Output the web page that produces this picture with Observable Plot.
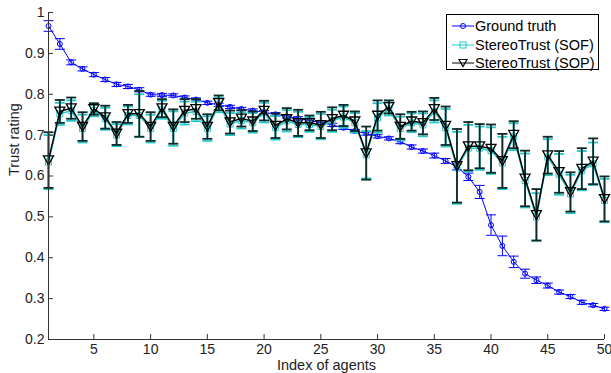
<!DOCTYPE html>
<html>
<head>
<meta charset="utf-8">
<script src="https://cdn.jsdelivr.net/npm/d3@7"></script>
<script src="https://cdn.jsdelivr.net/npm/@observablehq/plot@0.6"></script>
<style>
  html, body { margin: 0; padding: 0; background: #fff; }
  #wrap { position: relative; width: 611px; height: 373px; font-family: "Liberation Sans", Arial, sans-serif; }
  #legend { position: absolute; left: 446px; top: 14px; width: 151px; height: 54px; border: 1.5px solid #000; background: #fff; }
  .row { position: absolute; left: 0; width: 151px; height: 18px; }
  .row svg { position: absolute; left: 4px; top: 0; }
  .row span { position: absolute; left: 28px; top: 0; line-height: 18px; font-size: 14.5px; color: #000; white-space: nowrap; }
</style>
</head>
<body>
<div id="wrap"></div>
<script>
// ---- data ----
const agents = d3.range(1, 51);
const truth = [0.967,0.923,0.878,0.862,0.848,0.836,0.824,0.819,0.811,0.799,
               0.798,0.797,0.792,0.787,0.779,0.774,0.769,0.764,0.760,0.756,
               0.751,0.746,0.741,0.736,0.731,0.725,0.718,0.710,0.704,0.697,
               0.692,0.684,0.671,0.661,0.650,0.637,0.622,0.598,0.561,0.480,
               0.429,0.390,0.361,0.345,0.332,0.316,0.305,0.291,0.284,0.275];
const truthErr = [0.013,0.013,0.006,0.005,0.005,0.005,0.005,0.005,0.005,0.004,
                  0.004,0.004,0.004,0.004,0.004,0.004,0.004,0.004,0.004,0.004,
                  0.004,0.004,0.004,0.004,0.004,0.004,0.004,0.004,0.004,0.004,
                  0.004,0.005,0.005,0.005,0.006,0.006,0.007,0.009,0.016,0.025,
                  0.024,0.014,0.011,0.008,0.006,0.005,0.005,0.005,0.004,0.004];
const sop = [0.639,0.758,0.766,0.721,0.764,0.744,0.704,0.752,0.752,0.721,
             0.766,0.721,0.760,0.764,0.721,0.779,0.732,0.741,0.734,0.760,
             0.723,0.740,0.730,0.730,0.725,0.740,0.748,0.734,0.656,0.748,
             0.769,0.721,0.734,0.730,0.764,0.723,0.625,0.673,0.673,0.667,
             0.637,0.701,0.594,0.505,0.651,0.610,0.561,0.618,0.636,0.544];
const sopErr = [0.068,0.028,0.026,0.035,0.014,0.028,0.028,0.022,0.056,0.035,
                0.022,0.042,0.028,0.024,0.030,0.018,0.028,0.020,0.024,0.024,
                0.030,0.026,0.032,0.018,0.032,0.028,0.026,0.024,0.065,0.037,
                0.016,0.030,0.023,0.028,0.027,0.047,0.090,0.059,0.054,0.059,
                0.066,0.033,0.068,0.063,0.045,0.051,0.048,0.050,0.056,0.055];
const sof = [0.634,0.752,0.760,0.716,0.760,0.740,0.700,0.748,0.748,0.716,
             0.762,0.716,0.754,0.758,0.716,0.774,0.727,0.736,0.730,0.755,
             0.718,0.735,0.726,0.726,0.721,0.735,0.744,0.730,0.652,0.742,
             0.764,0.716,0.730,0.725,0.758,0.718,0.620,0.668,0.668,0.662,
             0.632,0.696,0.589,0.500,0.646,0.604,0.556,0.613,0.630,0.540];
const sofErr = [0.066,0.027,0.025,0.034,0.014,0.027,0.027,0.022,0.052,0.034,
                0.022,0.042,0.028,0.024,0.030,0.018,0.027,0.020,0.024,0.024,
                0.029,0.026,0.031,0.018,0.031,0.027,0.026,0.024,0.058,0.036,
                0.016,0.029,0.023,0.028,0.027,0.046,0.088,0.057,0.053,0.057,
                0.064,0.033,0.066,0.058,0.044,0.050,0.047,0.048,0.052,0.053];
const xTicks = [5,10,15,20,25,30,35,40,45,50];
const yTicks = [0.2,0.3,0.4,0.5,0.6,0.7,0.8,0.9,1];
const yTickLabels = ["0.2","0.3","0.4","0.5","0.6","0.7","0.8","0.9","1"];
const seriesNames = ["Ground truth", "StereoTrust (SOF)", "StereoTrust (SOP)"];

// ---- tables ----
const mk = (vals, errs) => agents.map((a, i) => ({x: a, y: vals[i], lo: vals[i] - errs[i], hi: vals[i] + errs[i]}));
const tTruth = mk(truth, truthErr);
const tSof = mk(sof, sofErr);
const tSop = mk(sop, sopErr);

// ---- symbols ----
const capSym = { draw(ctx, size) { const w = 5; ctx.moveTo(-w, 0); ctx.lineTo(w, 0); } };
const triDown = { draw(ctx, size) { const r = Math.sqrt(size / Math.PI); ctx.moveTo(-r, -r * 0.85); ctx.lineTo(r, -r * 0.85); ctx.lineTo(0, r * 0.95); ctx.closePath(); } };
const sqSym = { draw(ctx, size) { const r = Math.sqrt(size / Math.PI); ctx.rect(-r, -r, 2 * r, 2 * r); } };

const BLUE = "#0000ff", CYAN = "#22c8c8", BLACK = "#000", BAR = "#0c2a2a";

function series(t, color, barColor, lw, barW, sym, r, sw) {
  return [
    Plot.ruleX(t, {x: "x", y1: "lo", y2: "hi", stroke: barColor, strokeWidth: barW}),
    Plot.dot(t, {x: "x", y: "lo", symbol: capSym, r: 3, stroke: barColor, strokeWidth: barW}),
    Plot.dot(t, {x: "x", y: "hi", symbol: capSym, r: 3, stroke: barColor, strokeWidth: barW}),
    Plot.line(t, {x: "x", y: "y", stroke: color, strokeWidth: lw}),
    Plot.dot(t, {x: "x", y: "y", symbol: sym, r: r, stroke: color, fill: "none", strokeWidth: sw})
  ];
}

const chart = Plot.plot({
  width: 611,
  height: 373,
  marginLeft: 48,
  marginRight: 7,
  marginTop: 12,
  marginBottom: 34,
  style: {fontFamily: "'Liberation Sans', Arial, sans-serif", fontSize: "14px", color: "#222", background: "#fff"},
  x: {domain: [1, 50]},
  y: {domain: [0.2, 1]},
  marks: [
    ...series(tTruth, BLUE, BLUE, 1, 1, "circle", 2.5, 1),
    ...series(tSof, CYAN, CYAN, 1.5, 1.8, sqSym, 3, 1),
    ...series(tSop, BLACK, BAR, 1.5, 1.8, triDown, 5, 1.3),
    Plot.ruleX([1], {stroke: "#333", strokeWidth: 1}),
    Plot.ruleY([0.2], {stroke: "#333", strokeWidth: 1}),
    Plot.axisX(xTicks, {tickSize: -5, tickPadding: 10, label: null, stroke: "#333", fill: "#222", fontSize: 14}),
    Plot.axisY(yTicks, {tickSize: -5, tickPadding: 9, label: null, stroke: "#333", fill: "#222", fontSize: 14,
      tickFormat: (d) => yTickLabels[yTicks.indexOf(d)]}),
    Plot.text(["Index of agents"], {frameAnchor: "bottom", dy: 26, fontSize: 14.5, fill: "#222", lineAnchor: "middle"}),
    Plot.text(["Trust rating"], {frameAnchor: "left", dx: -34, rotate: -90, fontSize: 14.5, fill: "#222", lineAnchor: "middle"})
  ]
});

const wrap = document.getElementById("wrap");
wrap.appendChild(chart);

// ---- legend ----
const legend = document.createElement("div");
legend.id = "legend";
const legendSpecs = [
  {color: BLUE, marker: '<circle cx="12" cy="9" r="2.5" fill="none" stroke="#0000ff" stroke-width="1"/>'},
  {color: CYAN, marker: '<rect x="9" y="6" width="6" height="6" fill="none" stroke="#22c8c8" stroke-width="1"/>'},
  {color: BLACK, marker: '<path d="M8,5.5 L16,5.5 L12,12.5 Z" fill="none" stroke="#000" stroke-width="1.2"/>'}
];
seriesNames.forEach((name, i) => {
  const row = document.createElement("div");
  row.className = "row";
  row.style.top = (2 + i * 18.5) + "px";
  row.innerHTML = `<svg width="24" height="18"><line x1="1" y1="9" x2="23" y2="9" stroke="${legendSpecs[i].color}" stroke-width="1"/>${legendSpecs[i].marker}</svg><span>${name}</span>`;
  legend.appendChild(row);
});
wrap.appendChild(legend);
</script>
</body>
</html>
